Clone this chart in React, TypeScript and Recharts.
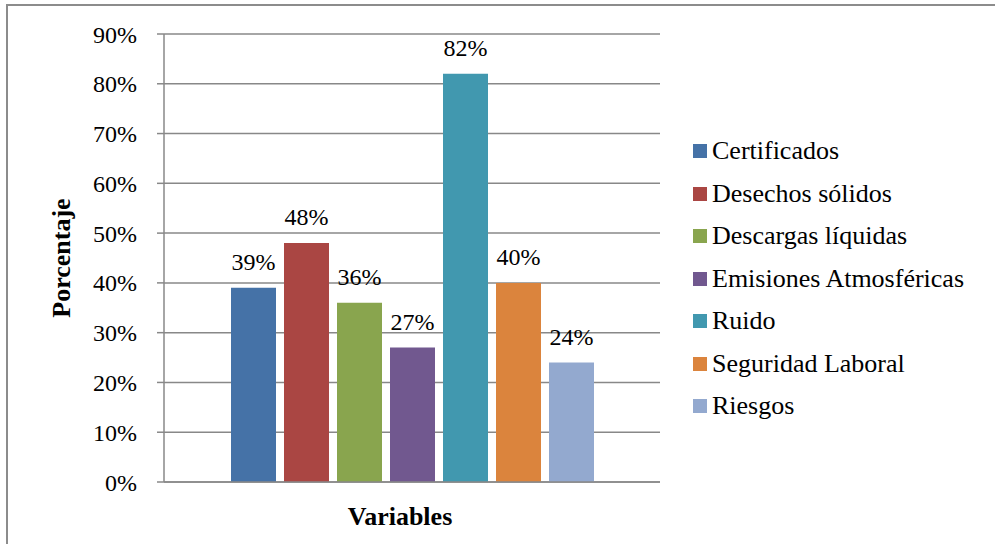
import React from 'react';
import { BarChart, Bar, XAxis, YAxis, CartesianGrid, LabelList, Label } from 'recharts';

const seriesNames = [
  'Certificados',
  'Desechos sólidos',
  'Descargas líquidas',
  'Emisiones Atmosféricas',
  'Ruido',
  'Seguridad Laboral',
  'Riesgos',
];
const seriesValues = [39, 48, 36, 27, 82, 40, 24];
const seriesColors = ['#4572A7', '#AA4643', '#89A54E', '#71588F', '#4198AF', '#DB843D', '#93A9CF'];
const yTicks = [0, 10, 20, 30, 40, 50, 60, 70, 80, 90];
const categories = [''];
const xTitle = 'Variables';
const yTitle = 'Porcentaje';

const FONT = "'Times New Roman', 'Liberation Serif', Tinos, serif";

const data = categories.map((c) => {
  const row: Record<string, string | number> = { name: c };
  seriesNames.forEach((n, i) => {
    row[n] = seriesValues[i];
  });
  return row;
});

export default function App() {
  return (
    <div style={{ position: 'absolute', left: 0, top: 0, width: 995, height: 544, background: '#fff', overflow: 'hidden', fontFamily: FONT }}>
      <div style={{ position: 'absolute', left: 6, top: 4, width: 1100, height: 700, borderLeft: '2px solid #8c8c8c', borderTop: '2px solid #8c8c8c' }} />
      <div style={{ position: 'absolute', left: 0, top: 0 }}>
        <BarChart
          width={995}
          height={544}
          data={data}
          margin={{ top: 34, right: 335, left: 0, bottom: 0 }}
          barSize={45}
          barGap={8}
          style={{ fontFamily: FONT }}
        >
          <CartesianGrid vertical={false} stroke="#888" strokeWidth={1.5} />
          <XAxis
            dataKey="name"
            height={62}
            tick={false}
            tickLine={false}
            axisLine={{ stroke: '#888', strokeWidth: 1.5 }}
          >
            <Label
              content={(props: any) => {
                const vb = props.viewBox || { x: 0, y: 0, width: 0, height: 0 };
                return (
                  <text
                    x={vb.x + vb.width / 2 - 12}
                    y={vb.y + 43}
                    textAnchor="middle"
                    style={{ fontFamily: FONT, fontWeight: 'bold', fontSize: 26 }}
                    fill="#000"
                  >
                    {xTitle}
                  </text>
                );
              }}
            />
          </XAxis>
          <YAxis
            width={164}
            domain={[0, 90]}
            ticks={yTicks}
            interval={0}
            tickFormatter={(v: number) => `${v}%`}
            tickSize={7}
            tickMargin={20}
            tick={{ fontSize: 24, fill: '#000', style: { fontFamily: FONT } }}
            tickLine={{ stroke: '#888', strokeWidth: 1.5 }}
            axisLine={{ stroke: '#888', strokeWidth: 1.5 }}
          >
            <Label
              content={(props: any) => {
                const vb = props.viewBox || { x: 0, y: 0, width: 0, height: 0 };
                const cx = vb.x + 61;
                const cy = vb.y + vb.height / 2;
                return (
                  <text
                    x={cx}
                    y={cy}
                    transform={`rotate(-90, ${cx}, ${cy})`}
                    textAnchor="middle"
                    dominantBaseline="central"
                    style={{ fontFamily: FONT, fontWeight: 'bold', fontSize: 26 }}
                    fill="#000"
                  >
                    {yTitle}
                  </text>
                );
              }}
            />
          </YAxis>
          {seriesNames.map((n, i) => (
            <Bar key={n} dataKey={n} fill={seriesColors[i]} isAnimationActive={false}>
              <LabelList
                dataKey={n}
                position="top"
                offset={18}
                formatter={(v: any) => `${v}%`}
                fill="#000"
                fontSize={24}
                style={{ fontFamily: FONT }}
              />
            </Bar>
          ))}
        </BarChart>
      </div>
      <div style={{ position: 'absolute', left: 693, top: 130 }}>
        {seriesNames.map((n, i) => (
          <div key={n} style={{ height: 42.5, display: 'flex', alignItems: 'center', whiteSpace: 'nowrap' }}>
            <span style={{ display: 'inline-block', width: 14, height: 14, background: seriesColors[i], marginRight: 5 }} />
            <span style={{ fontFamily: FONT, fontSize: 26, color: '#000' }}>{n}</span>
          </div>
        ))}
      </div>
    </div>
  );
}
